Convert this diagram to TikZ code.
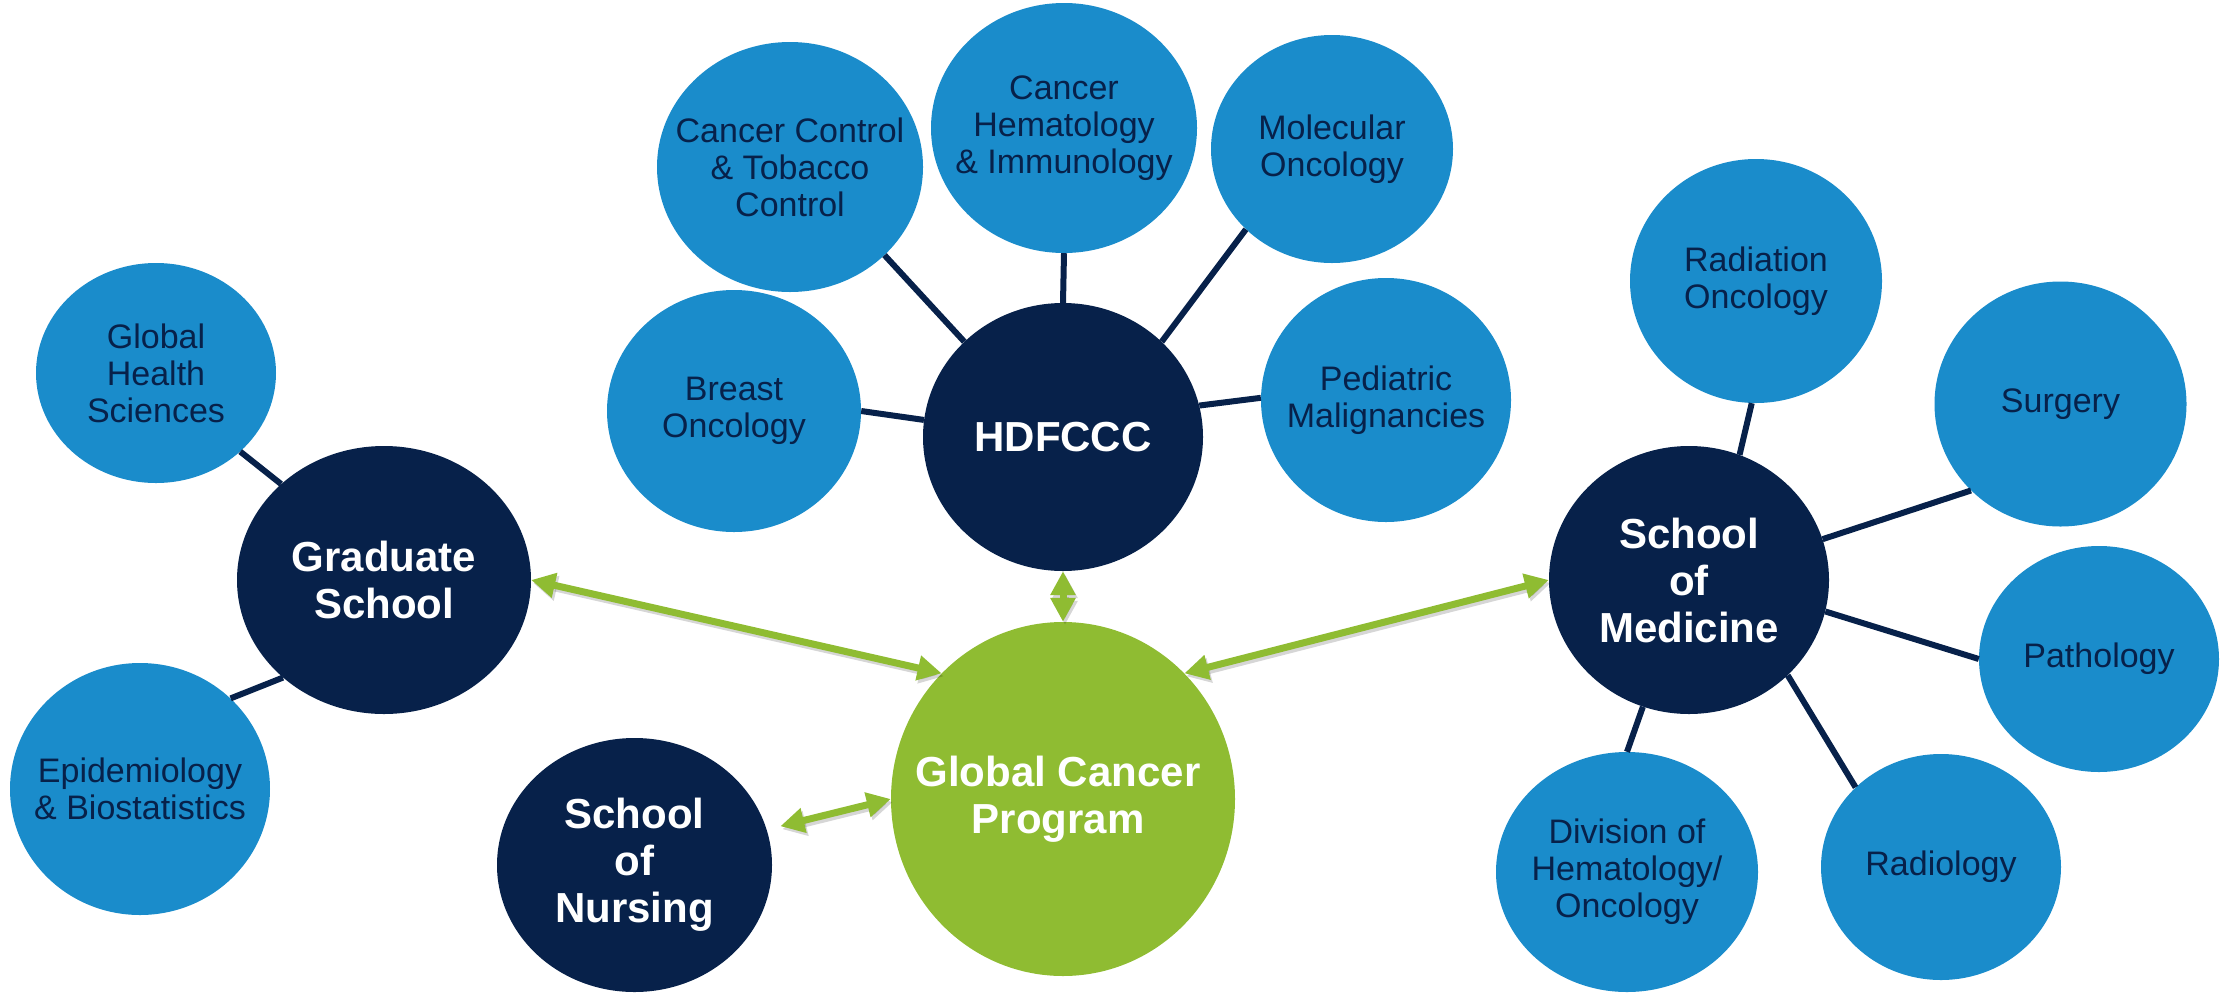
\documentclass[tikz,border=0pt]{standalone}
\usepackage{fontspec}
\setmainfont{Liberation Sans}
\usetikzlibrary{shapes.geometric,arrows.meta}
\definecolor{lblue}{RGB}{26,140,203}
\definecolor{navy}{RGB}{7,33,74}
\definecolor{lgreen}{RGB}{143,188,50}
\tikzset{
  sz/.style 2 args={minimum width=#1pt, minimum height=#2pt},
  bnode/.style={ellipse, fill=lblue, inner sep=0pt},
  dnode/.style={ellipse, fill=navy, inner sep=0pt},
  gnode/.style={ellipse, fill=lgreen, inner sep=0pt},
  btext/.style={text=navy, font=\fontsize{34}{37}\selectfont, align=center, inner sep=0pt},
  wtext/.style={text=white, font=\fontsize{42}{47}\selectfont\bfseries, align=center, inner sep=0pt},
  link/.style={draw=navy, line width=6pt},
  garrow/.style={draw=lgreen, line width=7pt, {Triangle[length=24pt,width=24pt]}-{Triangle[length=24pt,width=24pt]}},
  gshadow/.style={garrow, draw=black, opacity=0.16, transform canvas={xshift=2pt,yshift=-3pt}},
}
\begin{document}
\begin{tikzpicture}[x=1pt,y=-1pt]
\useasboundingbox (0,0) rectangle (2220,994);
% ellipses
\node[bnode, sz={240}{220}] (ghs) at (156,373) {};
\node[dnode, sz={294}{268}] (gs) at (384,580) {};
\node[bnode, sz={260}{252}] (epi) at (140,789) {};
\node[bnode, sz={254}{242}] (bo) at (734,411) {};
\node[bnode, sz={266}{250}] (cc) at (790,167) {};
\node[bnode, sz={266}{250}] (ch) at (1064,128) {};
\node[bnode, sz={242}{228}] (mo) at (1332,149) {};
\node[bnode, sz={250}{244}] (pm) at (1386,400) {};
\node[dnode, sz={280}{268}] (hdf) at (1063,437) {};
\node[gnode, sz={344}{354}] (gcp) at (1063,799) {};
\node[dnode, sz={275}{254}] (sn) at (634.5,865) {};
\node[dnode, sz={280}{268}] (som) at (1689,580) {};
\node[bnode, sz={252}{244}] (ro) at (1756,281) {};
\node[bnode, sz={252}{245}] (surg) at (2060.5,404) {};
\node[bnode, sz={240}{226}] (path) at (2099,659) {};
\node[bnode, sz={240}{226}] (rad) at (1941,867) {};
\node[bnode, sz={262}{240}] (div) at (1627,872) {};
% texts
\node[btext] (ghs-t) at (ghs) {Global\\Health\\Sciences};
\node[wtext] (gs-t) at (gs) {Graduate\\School};
\node[btext] (epi-t) at (epi) {Epidemiology\\\& Biostatistics};
\node[btext] (bo-t) at (bo) {Breast\\Oncology};
\node[btext] (cc-t) at (cc) {Cancer Control\\\& Tobacco\\Control};
\node[btext] (ch-t) at (ch) {Cancer\\Hematology\\\& Immunology};
\node[btext] (mo-t) at (mo) {Molecular\\Oncology};
\node[btext] (pm-t) at (pm) {Pediatric\\Malignancies};
\node[wtext] (hdf-t) at (hdf) {HDFCCC};
\node[wtext] (gcp-t) at ([xshift=-5pt]gcp.center) {Global Cancer\\Program};
\node[wtext] (sn-t) at (sn) {School\\of\\Nursing};
\node[wtext] (som-t) at (som) {School\\of\\Medicine};
\node[btext] (ro-t) at (ro) {Radiation\\Oncology};
\node[btext] (surg-t) at (surg) {Surgery};
\node[btext] (path-t) at (path) {Pathology};
\node[btext] (rad-t) at (rad) {Radiology};
\node[btext] (div-t) at (div) {Division of\\Hematology/\\Oncology};
% navy links
\draw[link] (ghs.-43) -- (gs.137);
\draw[link] (epi.45) -- (gs.224);
\draw[link] (cc.-43) -- (hdf.136);
\draw[link] (ch.-90) -- (hdf.90);
\draw[link] (mo.-137) -- (hdf.44);
\draw[link] (bo.0) -- (hdf.173);
\draw[link] (pm.179) -- (hdf.13);
\draw[link] (ro.-92) -- (som.68);
\draw[link] (surg.224) -- (som.17);
\draw[link] (path.180) -- (som.-13);
\draw[link] (rad.137) -- (som.-44);
\draw[link] (div.90) -- (som.250);
% green arrows (shadows)
\draw[gshadow] (gs.east) -- (gcp.134);
\draw[gshadow] (som.west) -- (gcp.46);
\draw[gshadow] (hdf.south) -- (gcp.north);
\draw[gshadow, shorten <=14pt] (sn.15) -- (gcp.west);
% green arrows
\draw[garrow] (gs.east) -- (gcp.134);
\draw[garrow] (som.west) -- (gcp.46);
\draw[garrow] (hdf.south) -- (gcp.north);
\draw[garrow, shorten <=14pt] (sn.15) -- (gcp.west);
\end{tikzpicture}
\end{document}
